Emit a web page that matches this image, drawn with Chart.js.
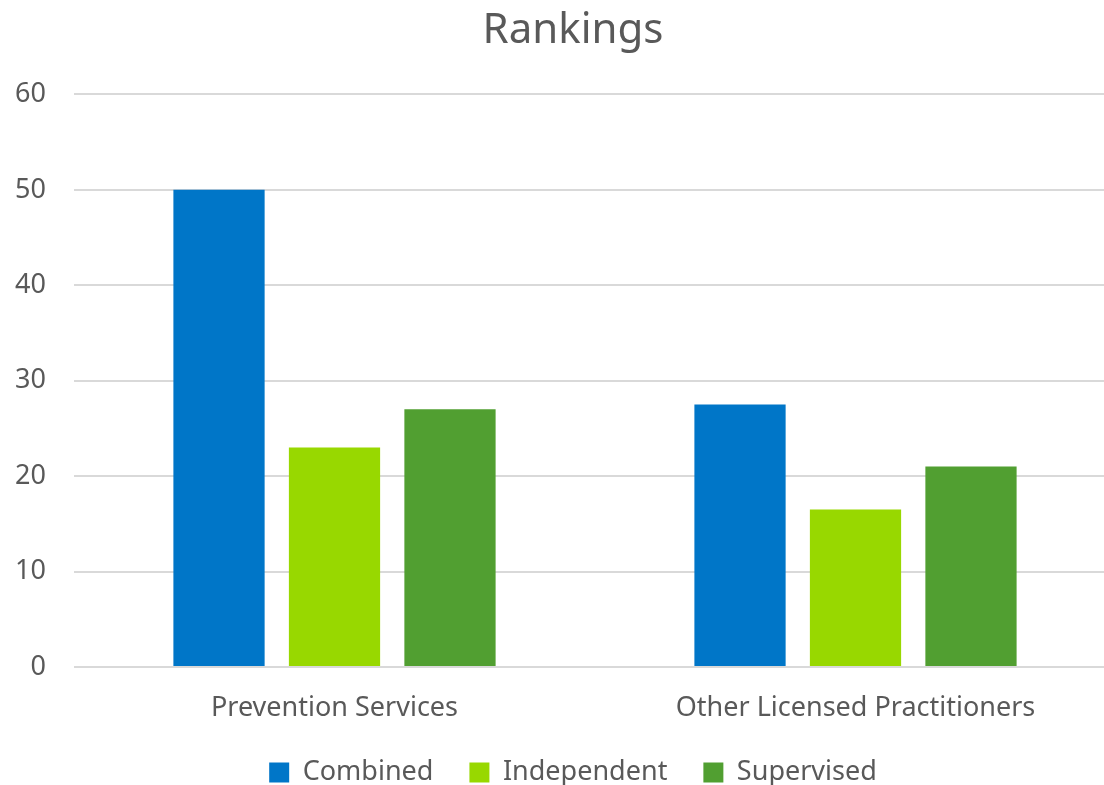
<!DOCTYPE html>
<html>
<head>
<meta charset="utf-8">
<script src="https://cdn.jsdelivr.net/npm/chart.js@4/dist/chart.umd.min.js"></script>
<style>
html,body{margin:0;padding:0;background:#fff;overflow:hidden;width:1104px;height:785px;}
#wrap{position:absolute;left:0;top:0;width:1146px;height:785px;}
</style>
</head>
<body>
<div id="wrap"><canvas id="c" width="1146" height="785"></canvas></div>
<script>
const categories = ["Prevention Services", "Other Licensed Practitioners"];
const combined = [50, 27.5];
const independent = [23, 16.5];
const supervised = [27, 21];
const yTicks = [0, 10, 20, 30, 40, 50, 60];

const FONT = "'Noto Sans', 'Open Sans', sans-serif";
const TXT = "#595959";

new Chart(document.getElementById('c'), {
  type: 'bar',
  data: {
    labels: categories,
    datasets: [
      {label: 'Combined', data: combined, backgroundColor: '#0076C8', yAxisID: 'y'},
      {label: 'Independent', data: independent, backgroundColor: '#98D800', yAxisID: 'y'},
      {label: 'Supervised', data: supervised, backgroundColor: '#519F31', yAxisID: 'y'}
    ]
  },
  options: {
    responsive: false,
    animation: false,
    layout: {padding: {left: 0, right: 0, top: 0, bottom: 0}},
    datasets: {bar: {categoryPercentage: 0.665, barPercentage: 0.79}},
    plugins: {
      title: {display: true, text: 'Rankings', color: TXT,
        font: {family: FONT, size: 42, weight: 'normal'}, padding: {top: 6, bottom: 38}},
      legend: {position: 'bottom', maxHeight: 62,
        labels: {color: TXT, boxWidth: 20, boxHeight: 20, padding: 36,
        font: {family: FONT, size: 27}}},
      tooltip: {enabled: false}
    },
    scales: {
      x: {
        grid: {display: false},
        border: {display: false},
        ticks: {color: TXT, font: {family: FONT, size: 27, lineHeight: 1}, padding: 20},
        afterFit: (s) => { s.height = 56; }
      },
      y: {
        position: 'left',
        min: 0, max: 60,
        afterBuildTicks: (s) => { s.ticks = yTicks.map(v => ({value: v})); },
        afterFit: (s) => { s.width = 74; },
        grid: {color: '#D9D9D9', lineWidth: 2, drawTicks: false},
        border: {display: false},
        ticks: {color: TXT, font: {family: FONT, size: 27}, padding: 28}
      },
      yRight: {
        position: 'right',
        min: 0, max: 60,
        grid: {display: false, drawOnChartArea: false},
        border: {display: false},
        ticks: {display: false},
        afterFit: (s) => { s.width = 30; }
      }
    }
  }
});
</script>
</body>
</html>
